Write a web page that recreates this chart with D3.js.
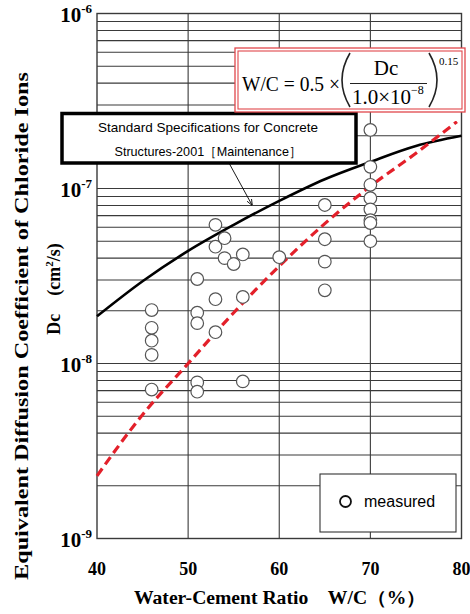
<!DOCTYPE html>
<html>
<head>
<meta charset="utf-8">
<script src="https://cdn.jsdelivr.net/npm/d3@7"></script>
<style>
  body { margin: 0; background: #fff; }
  svg { display: block; }
</style>
</head>
<body>
<div class="main-graph"></div>
<script>
// measured points: W/C (%) and Dc (cm2/s)
var measuredWC = [46, 46, 46, 46, 46,
                  51, 51, 51, 51, 51,
                  53, 53, 53, 53,
                  54, 54, 55,
                  56, 56, 56,
                  60,
                  65, 65, 65, 65,
                  70, 70, 70, 70, 70, 70, 70, 70];
var measuredDc = [2.02e-8, 1.6e-8, 1.35e-8, 1.12e-8, 7.1e-9,
                  3.04e-8, 1.95e-8, 1.7e-8, 7.8e-9, 6.9e-9,
                  6.2e-8, 4.65e-8, 2.33e-8, 1.51e-8,
                  5.2e-8, 4.0e-8, 3.7e-8,
                  4.2e-8, 2.4e-8, 7.9e-9,
                  4.05e-8,
                  8.05e-8, 5.13e-8, 3.82e-8, 2.62e-8,
                  2.16e-7, 1.33e-7, 1.05e-7, 8.8e-8, 7.6e-8, 6.6e-8, 6.35e-8, 5.0e-8];

// JSCE standard curve
var stdWC = [40, 45, 50, 55, 60, 65, 70, 75, 80];
var stdDc = [1.86e-8, 2.95e-8, 4.4e-8, 6.2e-8, 8.5e-8, 1.13e-7, 1.42e-7, 1.75e-7, 2.0e-7];

// proposed formula curve
var fitWC = [40, 45, 50, 55, 60, 65, 70, 75, 79.5];
var fitDc = [2.28e-9, 5.1e-9, 1.0e-8, 1.95e-8, 3.6e-8, 6.3e-8, 1.03e-7, 1.59e-7, 2.41e-7];

var xTicks = [40, 50, 60, 70, 80];
var yTicks = [-9, -8, -7, -6];

var W = 470, H = 614;
var margin = {left: 97, right: 461.5, top: 13.5, bottom: 538.5};

var svg = d3.select(".main-graph")
            .append("svg")
            .attr("width", W)
            .attr("height", H);

var x = d3.scaleLinear().domain([40, 80]).range([margin.left, margin.right]);
var y = d3.scaleLog().domain([1e-9, 1e-6]).range([margin.bottom, margin.top]);

var serif = "'Liberation Serif', 'Times New Roman', serif";
var sans = "'Liberation Sans', Arial, sans-serif";
var grid = "#3a3a3a";

// horizontal grid: 1..9 of every decade
var hLines = [];
[-9, -8, -7].forEach(function(e){
  for (var k = 1; k <= 9; k++) hLines.push(k * Math.pow(10, e));
});
svg.append("g").selectAll("line").data(hLines).join("line")
   .attr("x1", margin.left).attr("x2", margin.right)
   .attr("y1", d => y(d)).attr("y2", d => y(d))
   .attr("stroke", grid).attr("stroke-width", 1.1);

svg.append("g").selectAll("line").data([50, 60, 70]).join("line")
   .attr("x1", d => x(d)).attr("x2", d => x(d))
   .attr("y1", margin.top).attr("y2", margin.bottom)
   .attr("stroke", grid).attr("stroke-width", 1.1);

svg.append("rect")
   .attr("x", margin.left).attr("y", margin.top)
   .attr("width", margin.right - margin.left).attr("height", margin.bottom - margin.top)
   .attr("fill", "none").attr("stroke", grid).attr("stroke-width", 1.4);

// tick labels
svg.append("g").selectAll("text").data(xTicks).join("text")
   .attr("x", d => x(d)).attr("y", 575)
   .attr("text-anchor", "middle")
   .style("font-family", serif).style("font-weight", "bold").style("font-size", "18px")
   .text(d => d);

var yt = svg.append("g").selectAll("text").data(yTicks).join("text")
   .attr("x", 92).attr("y", d => y(Math.pow(10, d)) + 8)
   .attr("text-anchor", "end")
   .style("font-family", serif).style("font-weight", "bold").style("font-size", "21px");
yt.append("tspan").text("10");
yt.append("tspan").attr("dy", -9).style("font-size", "13px").text(d => d);

// curves
var line = d3.line()
             .x(d => x(d[0]))
             .y(d => y(d[1]))
             .curve(d3.curveMonotoneX);

svg.append("path")
   .attr("d", line(d3.zip(stdWC, stdDc)))
   .attr("fill", "none").attr("stroke", "#000").attr("stroke-width", 2.6);

svg.append("path")
   .attr("d", line(d3.zip(fitWC, fitDc)))
   .attr("fill", "none").attr("stroke", "#e3202a").attr("stroke-width", 3.2)
   .attr("stroke-dasharray", "9,5");

// measured points
svg.append("g").selectAll("circle").data(d3.zip(measuredWC, measuredDc)).join("circle")
   .attr("cx", d => x(d[0])).attr("cy", d => y(d[1]))
   .attr("r", 6.3)
   .attr("fill", "#fff").attr("stroke", "#555").attr("stroke-width", 1.2);

// standard spec label box + arrow
svg.append("defs").append("marker")
   .attr("id", "arr").attr("viewBox", "0 0 10 10")
   .attr("refX", 9).attr("refY", 5)
   .attr("markerWidth", 7).attr("markerHeight", 7)
   .attr("orient", "auto")
   .append("path").attr("d", "M0,1 L10,5 L0,9").attr("fill", "none")
   .attr("stroke", "#000").attr("stroke-width", 1.3);

svg.append("line")
   .attr("x1", 229).attr("y1", 163).attr("x2", 252).attr("y2", 205)
   .attr("stroke", "#000").attr("stroke-width", 0.9)
   .attr("marker-end", "url(#arr)");

svg.append("rect")
   .attr("x", 62).attr("y", 113.5).attr("width", 294).attr("height", 49.5)
   .attr("fill", "#fff").attr("stroke", "#000").attr("stroke-width", 3.5);

function fitText(sel, width) {
  var w = sel.node().getComputedTextLength();
  if (w > 0) sel.attr("textLength", width).attr("lengthAdjust", "spacingAndGlyphs");
}

var s1 = svg.append("text").attr("x", 208).attr("y", 132).attr("text-anchor", "middle")
   .style("font-family", sans).style("font-size", "13px")
   .text("Standard Specifications for Concrete");
fitText(s1, 220);
var s2 = svg.append("text").attr("x", 208).attr("y", 156).attr("text-anchor", "middle")
   .style("font-family", sans).style("font-size", "13px")
   .text("Structures-2001［Maintenance］");
fitText(s2, 187);

// formula box
var red = "#e0474c";
svg.append("rect").attr("x", 235).attr("y", 48).attr("width", 230).attr("height", 64)
   .attr("fill", "#fff").attr("stroke", red).attr("stroke-width", 1.3);
svg.append("rect").attr("x", 238).attr("y", 51).attr("width", 224).attr("height", 58)
   .attr("fill", "none").attr("stroke", red).attr("stroke-width", 1.1);

var f1 = svg.append("text").attr("x", 242).attr("y", 91)
   .style("font-family", serif).style("font-size", "21px")
   .text("W/C = 0.5 ×");
fitText(f1, 98);

svg.append("path").attr("d", "M350,53 Q334,80 350,107")
   .attr("fill", "none").attr("stroke", "#222").attr("stroke-width", 1.6);
svg.append("path").attr("d", "M429,53 Q445,80 429,107")
   .attr("fill", "none").attr("stroke", "#222").attr("stroke-width", 1.6);

svg.append("text").attr("x", 386).attr("y", 75).attr("text-anchor", "middle")
   .style("font-family", serif).style("font-size", "21px").text("Dc");
svg.append("line").attr("x1", 350).attr("x2", 427).attr("y1", 83.5).attr("y2", 83.5)
   .attr("stroke", "#222").attr("stroke-width", 1.2);
var den = svg.append("text").attr("x", 352).attr("y", 104)
   .style("font-family", serif).style("font-size", "21px");
den.append("tspan").text("1.0×10");
den.append("tspan").attr("dy", -10).style("font-size", "12px").text("−8");

svg.append("text").attr("x", 439).attr("y", 65)
   .style("font-family", serif).style("font-size", "11px").text("0.15");

// legend
svg.append("rect").attr("x", 320).attr("y", 474).attr("width", 136).attr("height", 58)
   .attr("fill", "#fff").attr("stroke", "#333").attr("stroke-width", 1.1);
svg.append("circle").attr("cx", 345.5).attr("cy", 501.5).attr("r", 5.5)
   .attr("fill", "#fff").attr("stroke", "#111").attr("stroke-width", 1.8);
svg.append("text").attr("x", 364).attr("y", 507)
   .style("font-family", sans).style("font-size", "16px").text("measured");

// axis titles
var xt = svg.append("text").attr("x", 280).attr("y", 604).attr("text-anchor", "middle")
   .style("font-family", serif).style("font-weight", "bold").style("font-size", "18px")
   .text("Water-Cement Ratio　W/C（%）");
fitText(xt, 292);

var ytl = svg.append("text")
   .attr("transform", "translate(28,326)rotate(-90)")
   .attr("text-anchor", "middle")
   .style("font-family", serif).style("font-weight", "bold").style("font-size", "19px")
   .text("Equivalent Diffusion Coefficient of Chloride Ions");
fitText(ytl, 508);

var yu = svg.append("text")
   .attr("transform", "translate(60,289)rotate(-90)")
   .attr("text-anchor", "middle")
   .style("font-family", serif).style("font-weight", "bold").style("font-size", "18px");
yu.append("tspan").text("Dc　(cm");
yu.append("tspan").attr("dy", -7).style("font-size", "11px").text("2");
yu.append("tspan").attr("dy", 7).text("/s)");
</script>
</body>
</html>
